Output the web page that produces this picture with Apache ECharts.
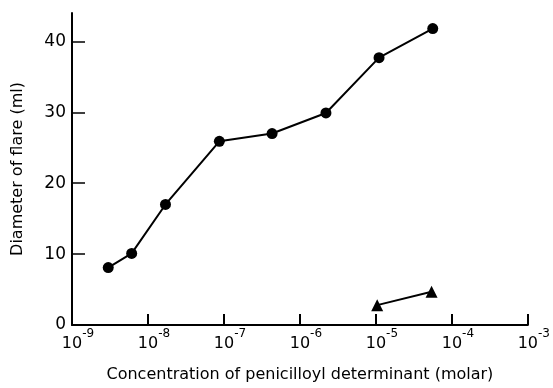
<!DOCTYPE html>
<html>
<head>
<meta charset="utf-8">
<script src="https://cdn.jsdelivr.net/npm/echarts@6/dist/echarts.min.js"></script>
<style>html,body{margin:0;padding:0;background:#fff}#c{width:553px;height:388px}</style>
</head>
<body>
<div id="c"></div>
<script>
// Penicilloyl determinant concentration (molar) vs diameter of flare (ml)
var circleConc = [3.0e-9, 6.1e-9, 1.7e-8, 8.7e-8, 4.3e-7, 2.2e-6, 1.1e-5, 5.6e-5];
var circleDiam = [8.1, 10.1, 17.0, 25.9, 27.0, 29.9, 37.7, 41.8];
var triConc = [1.04e-5, 5.4e-5];
var triDiam = [2.8, 4.7];
var yTicks = [0, 10, 20, 30, 40];
var xTicksExp = [-9, -8, -7, -6, -5, -4, -3];

function pairs(xs, ys) { return xs.map(function (x, i) { return [x, ys[i]]; }); }

var FONT = 'DejaVu Sans';
var chart = echarts.init(document.getElementById('c'), null, { renderer: 'canvas' });
chart.setOption({
  animation: false,
  backgroundColor: '#fff',
  grid: { left: 72, right: 25, top: 13, bottom: 60, containLabel: false },
  xAxis: {
    type: 'log', logBase: 10, min: 1e-9, max: 1e-3,
    name: 'Concentration of penicilloyl determinant (molar)',
    nameLocation: 'middle', nameGap: 42,
    nameTextStyle: { fontFamily: FONT, fontSize: 16, color: '#000' },
    axisLine: { show: true, lineStyle: { color: '#000', width: 2 } },
    axisTick: { show: true, inside: true, length: 11, lineStyle: { color: '#000', width: 2 } },
    minorTick: { show: false },
    splitLine: { show: false },
    axisLabel: {
      margin: 3, color: '#000',
      formatter: function (v) {
        var e = Math.round(Math.log10(v));
        return '{pad|' + e + '}{b|10}{sup|' + e + '}';
      },
      rich: {
        b: { fontFamily: FONT, fontSize: 16, color: '#000', lineHeight: 24, verticalAlign: 'bottom' },
        sup: { fontFamily: FONT, fontSize: 12, color: '#000', verticalAlign: 'top', lineHeight: 16 },
        pad: { fontFamily: FONT, fontSize: 12, color: 'rgba(0,0,0,0)', verticalAlign: 'top', lineHeight: 16 }
      }
    }
  },
  yAxis: {
    type: 'value', min: 0, max: 44,
    name: 'Diameter of flare (ml)',
    nameLocation: 'middle', nameGap: 46,
    nameTextStyle: { fontFamily: FONT, fontSize: 16, color: '#000' },
    axisLine: { show: true, lineStyle: { color: '#000', width: 2 } },
    axisTick: { show: true, inside: true, length: 13, customValues: yTicks, lineStyle: { color: '#000', width: 1.5 } },
    splitLine: { show: false },
    axisLabel: { customValues: yTicks, margin: 6, color: '#000', fontFamily: FONT, fontSize: 17 }
  },
  series: [
    {
      type: 'line', data: pairs(circleConc, circleDiam),
      symbol: 'circle', symbolSize: 11,
      lineStyle: { color: '#000', width: 2 },
      itemStyle: { color: '#000' }
    },
    {
      type: 'line', data: pairs(triConc, triDiam),
      symbol: 'triangle', symbolSize: [12, 12],
      lineStyle: { color: '#000', width: 2 },
      itemStyle: { color: '#000' }
    }
  ]
});
</script>
</body>
</html>
